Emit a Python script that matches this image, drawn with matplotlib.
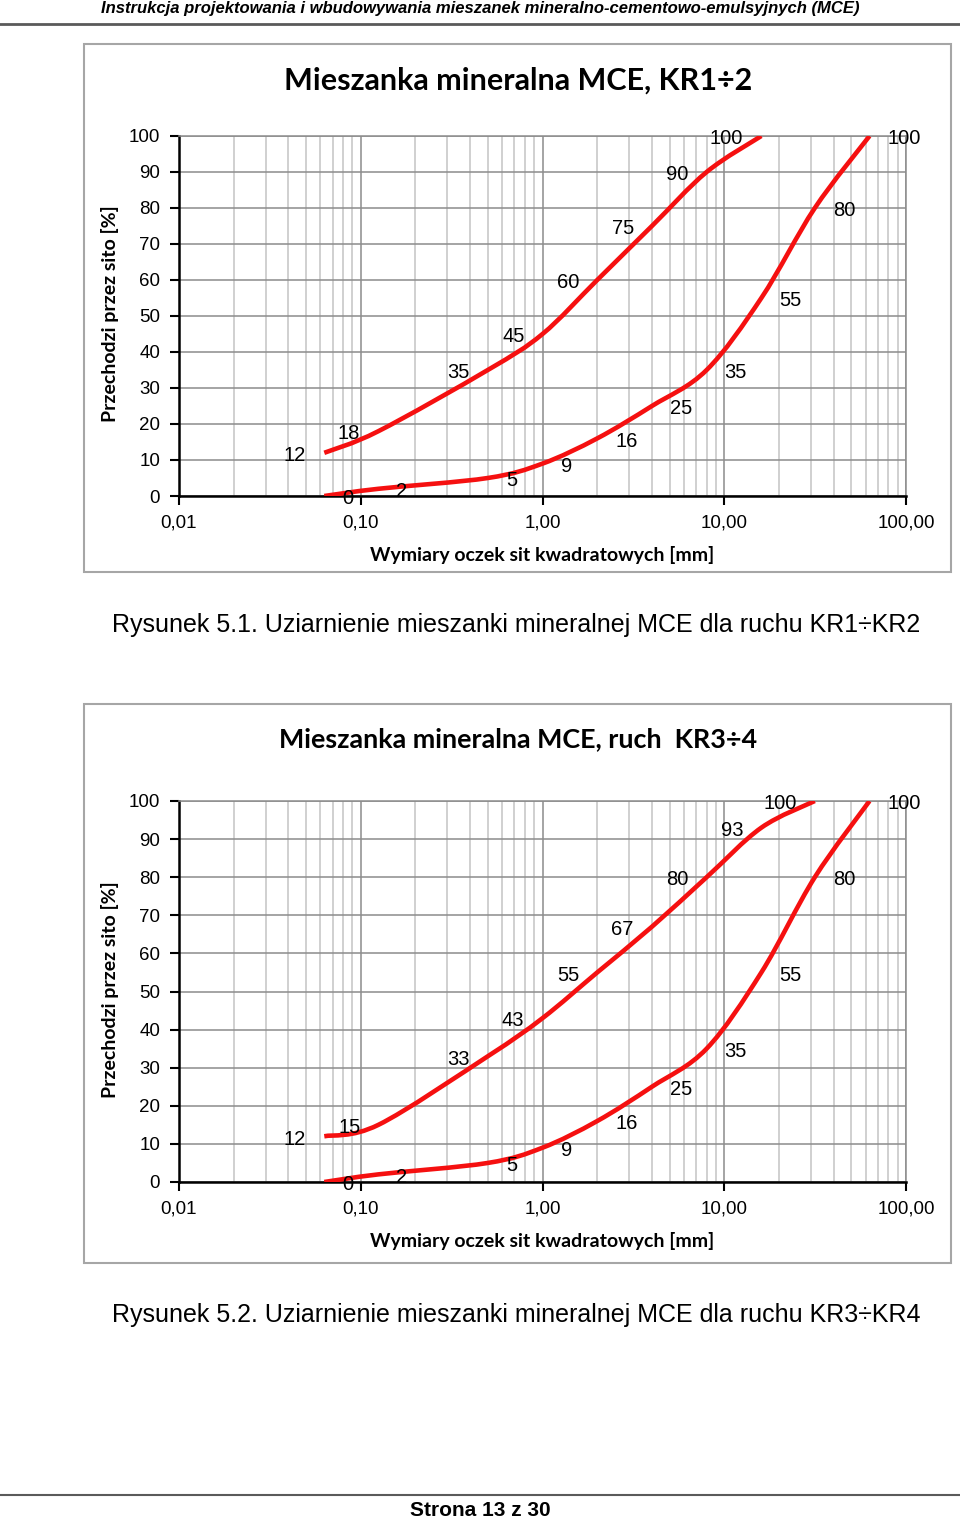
import numpy as np
import matplotlib
matplotlib.use('Agg')
import matplotlib.pyplot as plt
from matplotlib.path import Path
from matplotlib.patches import PathPatch, Rectangle
from matplotlib.lines import Line2D
from matplotlib.ticker import LogLocator, FuncFormatter, NullFormatter

plt.rcParams['font.family'] = ['Liberation Sans', 'DejaVu Sans']

# dane - sita [mm] i przechodzi [%]
sita_dolna = [0.063, 0.125, 0.5, 1, 2, 4, 8, 16, 31.5, 63]
dolna = [0, 2, 5, 9, 16, 25, 35, 55, 80, 100]

sita_gorna1 = [0.063, 0.125, 0.5, 1, 2, 4, 8, 16]
gorna1 = [12, 18, 35, 45, 60, 75, 90, 100]

sita_gorna2 = [0.063, 0.125, 0.5, 1, 2, 4, 8, 16, 31.5]
gorna2 = [12, 15, 33, 43, 55, 67, 80, 93, 100]

tytul1 = 'Mieszanka mineralna MCE, KR1÷2'
tytul2 = 'Mieszanka mineralna MCE, ruch  KR3÷4'
podpis1 = 'Rysunek 5.1. Uziarnienie mieszanki mineralnej MCE dla ruchu KR1÷KR2'
podpis2 = 'Rysunek 5.2. Uziarnienie mieszanki mineralnej MCE dla ruchu KR3÷KR4'
naglowek = 'Instrukcja projektowania i wbudowywania mieszanek mineralno-cementowo-emulsyjnych (MCE)'
stopka = 'Strona 13 z 30'

W, H = 960, 1518
fig = plt.figure(figsize=(W / 100, H / 100), dpi=100)
CZERWONY = '#f51010'
CALIBRI = ['Lato', 'DejaVu Sans']


def fx(px):
    return px / W


def fy(py):
    return 1 - py / H


def wygladz(ax, x, y):
    # linia wygladzona jak w Excelu (krzywe Beziera przez punkty)
    lx = np.log10(x)
    y = np.asarray(y, float)
    n = len(x)
    verts = [(x[0], y[0])]
    codes = [Path.MOVETO]
    for i in range(n - 1):
        a = i - 1 if i > 0 else i
        d = i + 2 if i + 2 < n else i + 1
        c1 = (10 ** (lx[i] + (lx[i + 1] - lx[a]) / 6), y[i] + (y[i + 1] - y[a]) / 6)
        c2 = (10 ** (lx[i + 1] - (lx[d] - lx[i]) / 6), y[i + 1] - (y[d] - y[i]) / 6)
        verts += [c1, c2, (x[i + 1], y[i + 1])]
        codes += [Path.CURVE4] * 3
    ax.add_patch(PathPatch(Path(verts, codes), fill=False, ec=CZERWONY, lw=3.3,
                           capstyle='butt', joinstyle='round', zorder=3))


def wykres(top, bottom, box, tytul, ty, tsize, gorne_x, gorne_y):
    x0, y0, x1, y1 = box
    fig.patches.append(Rectangle((fx(x0), fy(y1)), fx(x1 - x0), (y1 - y0) / H,
                                 transform=fig.transFigure, fill=False,
                                 ec='#a6a6a6', lw=1.5))
    ax = fig.add_axes([fx(179), fy(bottom), fx(727), (bottom - top) / H])
    ax.set_xscale('log')
    ax.set_xlim(0.01, 100)
    ax.set_ylim(0, 100)
    ax.set_yticks(range(0, 101, 10))
    ax.xaxis.set_major_locator(LogLocator(base=10))
    ax.xaxis.set_minor_locator(LogLocator(base=10, subs=np.arange(2, 10)))
    ax.xaxis.set_minor_formatter(NullFormatter())
    ax.xaxis.set_major_formatter(FuncFormatter(lambda v, p: f'{v:.2f}'.replace('.', ',')))
    ax.grid(which='major', axis='both', color='#8c8c8c', lw=1.1)
    ax.grid(which='minor', axis='x', color='#c4c4c4', lw=1.1)
    ax.set_axisbelow(True)
    ax.tick_params(which='minor', length=0)
    ax.tick_params(which='major', direction='out', length=6.5, width=1.5,
                   labelsize=13.5, pad=7)
    for s in ['left', 'bottom']:
        ax.spines[s].set_linewidth(1.8)
        ax.spines[s].set_color('black')
    for s in ['top', 'right']:
        ax.spines[s].set_linewidth(1.1)
        ax.spines[s].set_color('#8c8c8c')

    wygladz(ax, gorne_x, gorne_y)
    wygladz(ax, sita_dolna, dolna)
    for xv, yv in zip(gorne_x, gorne_y):
        ax.annotate(str(yv), (xv, yv), xytext=(-13, -2), textcoords='offset points',
                    ha='right', va='center', fontsize=14.5, annotation_clip=False)
    for xv, yv in zip(sita_dolna, dolna):
        ax.annotate(str(yv), (xv, yv), xytext=(13, -2), textcoords='offset points',
                    ha='left', va='center', fontsize=14.5, annotation_clip=False)

    fig.text(fx(518), fy(ty), tytul, ha='center', va='center', fontsize=tsize,
             fontweight='bold', family=CALIBRI)
    fig.text(fx(110), fy((top + bottom) / 2 - 2), 'Przechodzi przez sito [%]',
             rotation=90, ha='center', va='center', fontsize=14,
             fontweight='bold', family=CALIBRI)
    fig.text(fx(542), fy(bottom + 59), 'Wymiary oczek sit kwadratowych [mm]',
             ha='center', va='center', fontsize=14, fontweight='bold', family=CALIBRI)
    return ax


wykres(136, 496, (84, 44, 951, 572), tytul1, 81, 22, sita_gorna1, gorna1)
fig.text(fx(516), fy(625), podpis1, ha='center', va='center', fontsize=18)

wykres(801, 1182, (84, 704, 951, 1263), tytul2, 739, 19.4, sita_gorna2, gorna2)
fig.text(fx(516), fy(1315), podpis2, ha='center', va='center', fontsize=18)

# naglowek i stopka strony
fig.text(fx(480), fy(8), naglowek, ha='center', va='center', fontsize=12,
         fontweight='bold', style='italic',
         family=['Liberation Sans Narrow', 'Liberation Sans'])
fig.lines.append(Line2D([0, 1], [fy(24), fy(24)], transform=fig.transFigure,
                        color='#5a5a5a', lw=2))
fig.lines.append(Line2D([0, 1], [fy(1495), fy(1495)], transform=fig.transFigure,
                        color='#5a5a5a', lw=1.5))
fig.text(fx(480), fy(1510), stopka, ha='center', va='center', fontsize=15,
         fontweight='bold')

fig.savefig('out.png', dpi=100)
